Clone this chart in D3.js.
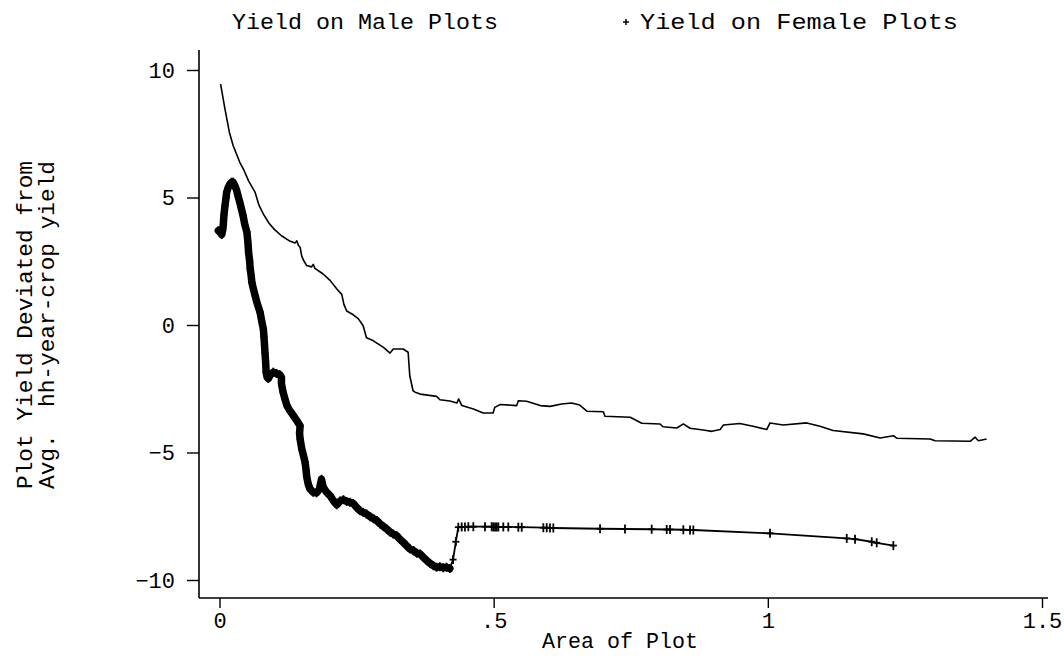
<!DOCTYPE html>
<html><head><meta charset="utf-8">
<script src="https://cdn.jsdelivr.net/npm/d3@7"></script>
<style>html,body{margin:0;padding:0;background:#fff;}svg{display:block;}</style>
</head><body>
<svg id="chart" width="1064" height="661"></svg>
<script>
// ---- data ----
const maleArea = [0.002,0.010,0.018,0.025,0.037,0.045,0.053,0.065,0.072,0.080,0.090,0.100,0.113,0.129,0.138,0.141,0.144,0.147,0.150,0.153,0.159,0.168,0.171,0.174,0.189,0.202,0.214,0.223,0.227,0.232,0.244,0.253,0.262,0.268,0.280,0.299,0.311,0.317,0.335,0.344,0.347,0.353,0.358,0.366,0.396,0.402,0.420,0.433,0.436,0.442,0.463,0.481,0.499,0.502,0.512,0.542,0.545,0.560,0.585,0.603,0.624,0.642,0.657,0.670,0.700,0.703,0.749,0.770,0.803,0.809,0.834,0.846,0.858,0.882,0.898,0.913,0.919,0.949,0.975,0.998,1.004,1.028,1.071,1.095,1.119,1.174,1.205,1.229,1.235,1.296,1.305,1.369,1.378,1.384,1.399];
const maleYield = [9.45,8.47,7.56,7.03,6.38,6.05,5.65,5.20,4.70,4.35,4.00,3.75,3.50,3.28,3.22,3.30,3.12,3.05,2.70,2.55,2.33,2.28,2.38,2.22,2.00,1.74,1.41,1.20,0.80,0.55,0.40,0.25,-0.03,-0.50,-0.61,-0.88,-1.10,-0.94,-0.94,-1.07,-1.99,-2.58,-2.65,-2.71,-2.80,-2.93,-2.98,-3.06,-2.90,-3.16,-3.29,-3.45,-3.45,-3.23,-3.12,-3.16,-2.97,-2.99,-3.16,-3.19,-3.10,-3.06,-3.14,-3.38,-3.40,-3.58,-3.62,-3.85,-3.88,-3.99,-4.04,-3.88,-4.05,-4.12,-4.17,-4.10,-3.92,-3.86,-3.98,-4.10,-3.84,-3.92,-3.84,-3.97,-4.14,-4.27,-4.43,-4.34,-4.44,-4.47,-4.54,-4.56,-4.40,-4.54,-4.47];

const femaleArea = [-0.002,0.002,0.004,0.006,0.007,0.008,0.010,0.012,0.013,0.016,0.019,0.022,0.025,0.028,0.031,0.034,0.037,0.040,0.043,0.046,0.050,0.052,0.053,0.055,0.056,0.058,0.059,0.062,0.065,0.068,0.071,0.074,0.077,0.080,0.081,0.082,0.083,0.084,0.085,0.087,0.089,0.093,0.098,0.104,0.110,0.113,0.113,0.116,0.120,0.123,0.128,0.135,0.141,0.147,0.146,0.147,0.150,0.153,0.156,0.158,0.159,0.162,0.165,0.171,0.177,0.182,0.186,0.189,0.195,0.202,0.208,0.214,0.220,0.226,0.232,0.238,0.244,0.250,0.256,0.262,0.268,0.275,0.281,0.287,0.293,0.299,0.305,0.311,0.317,0.323,0.329,0.335,0.341,0.347,0.354,0.360,0.366,0.372,0.378,0.384,0.390,0.396,0.402,0.408,0.414,0.420,0.426,0.431,0.4355,0.4417,0.4477,0.4538,0.4629,0.4842,0.4964,0.4994,0.5025,0.5056,0.5085,0.5176,0.5267,0.545,0.5512,0.5906,0.5968,0.6028,0.6088,0.694,0.7395,0.7882,0.8156,0.8216,0.8459,0.8581,0.8641,1.004,1.1439,1.159,1.1895,1.1986,1.2289];
const femaleYield = [3.70,3.62,3.55,3.75,3.95,4.30,4.68,5.00,5.20,5.40,5.53,5.60,5.60,5.46,5.30,5.05,4.81,4.55,4.29,3.95,3.64,3.20,2.85,2.50,2.20,1.90,1.67,1.40,1.15,0.90,0.70,0.50,0.15,-0.16,-0.45,-0.75,-1.10,-1.40,-1.85,-2.05,-2.10,-1.95,-1.85,-1.90,-1.95,-2.05,-2.31,-2.64,-2.95,-3.16,-3.35,-3.56,-3.75,-3.95,-4.25,-4.47,-4.86,-5.10,-5.38,-5.70,-5.95,-6.25,-6.43,-6.56,-6.58,-6.45,-6.05,-6.35,-6.55,-6.70,-6.90,-7.05,-6.90,-6.85,-6.92,-6.95,-7.00,-7.15,-7.28,-7.35,-7.41,-7.52,-7.60,-7.67,-7.80,-7.90,-8.00,-8.12,-8.20,-8.26,-8.40,-8.52,-8.65,-8.78,-8.85,-8.95,-8.98,-9.12,-9.24,-9.35,-9.44,-9.50,-9.48,-9.52,-9.50,-9.55,-9.20,-8.50,-7.93,-7.92,-7.92,-7.91,-7.91,-7.91,-7.91,-7.92,-7.92,-7.92,-7.92,-7.92,-7.92,-7.93,-7.93,-7.95,-7.95,-7.96,-7.96,-7.99,-8.00,-8.01,-8.02,-8.02,-8.03,-8.04,-8.04,-8.17,-8.37,-8.40,-8.50,-8.54,-8.65];

const yTicks = [-10, -5, 0, 5, 10];
const yTickLabels = ["\u221210", "\u22125", "0", "5", "10"];
const xTicks = [0, 0.5, 1, 1.5];
const xTickLabels = ["0", ".5", "1", "1.5"];
const legendLabels = ["Yield on Male Plots", "Yield on Female Plots"];
const xTitle = "Area of Plot";
const yTitleLines = ["Plot Yield Deviated from", "Avg.  hh-year-crop yield"];

// ---- drawing ----
const FONT = "'Liberation Mono', 'DejaVu Sans Mono', monospace";
const svg = d3.select("#chart");
const x = d3.scaleLinear().domain([0, 1.5]).range([219.5, 1042]);
const y = d3.scaleLinear().domain([-10, 10]).range([580, 70]);
const axisX = 199, axisY = 598;

// axis lines
svg.append("line").attr("x1", axisX).attr("x2", axisX).attr("y1", 50).attr("y2", axisY)
  .attr("stroke", "#000").attr("stroke-width", 1.6);
svg.append("line").attr("x1", axisX).attr("x2", 1048).attr("y1", axisY).attr("y2", axisY)
  .attr("stroke", "#000").attr("stroke-width", 1.6);

const gy = svg.append("g").attr("transform", `translate(${axisX},0)`)
  .call(d3.axisLeft(y).tickValues(yTicks).tickSize(12).tickSizeOuter(0).tickPadding(12)
    .tickFormat((d, i) => yTickLabels[i]));
gy.select(".domain").remove();
gy.selectAll(".tick line").attr("stroke", "#000").attr("stroke-width", 1.4);
gy.selectAll(".tick text").attr("font-family", FONT).attr("font-size", 22).attr("fill", "#000");

const gx = svg.append("g").attr("transform", `translate(0,${axisY})`)
  .call(d3.axisBottom(x).tickValues(xTicks).tickSize(10).tickSizeOuter(0).tickPadding(4)
    .tickFormat((d, i) => xTickLabels[i]));
gx.select(".domain").remove();
gx.selectAll(".tick line").attr("stroke", "#000").attr("stroke-width", 1.4);
gx.selectAll(".tick text").attr("font-family", FONT).attr("font-size", 22).attr("fill", "#000");

// titles
svg.append("text").attr("x", 620).attr("y", 648).attr("text-anchor", "middle")
  .attr("font-family", FONT).attr("font-size", 22).attr("textLength", 156).attr("lengthAdjust", "spacingAndGlyphs")
  .text(xTitle);
yTitleLines.forEach((t, i) => {
  const cx = [32, 54][i];
  svg.append("text").attr("transform", `translate(${cx},325) rotate(-90)`)
    .attr("text-anchor", "middle").attr("font-family", FONT).attr("font-size", 22)
    .attr("textLength", 328).attr("lengthAdjust", "spacingAndGlyphs")
    .style("white-space", "pre").attr("xml:space", "preserve").text(t);
});

// legend
svg.append("text").attr("x", 232).attr("y", 29).attr("font-family", FONT).attr("font-size", 22)
  .attr("textLength", 266).attr("lengthAdjust", "spacingAndGlyphs").text(legendLabels[0]);
svg.append("text").attr("x", 640).attr("y", 29).attr("font-family", FONT).attr("font-size", 22)
  .attr("textLength", 318).attr("lengthAdjust", "spacingAndGlyphs").text(legendLabels[1]);
const plus = (g, cx, cy, s) => {
  g.append("line").attr("x1", cx - s / 2).attr("x2", cx + s / 2).attr("y1", cy).attr("y2", cy);
  g.append("line").attr("x1", cx).attr("x2", cx).attr("y1", cy - s / 2).attr("y2", cy + s / 2);
};
const lg = svg.append("g").attr("stroke", "#000").attr("stroke-width", 1.5);
plus(lg, 626, 22, 6);

// series
const male = maleArea.map((a, i) => [a, maleYield[i]]);
const female = femaleArea.map((a, i) => [a, femaleYield[i]]);
const line = d3.line().x(d => x(d[0])).y(d => y(d[1]));

svg.append("path").datum(male).attr("d", line).attr("fill", "none")
  .attr("stroke", "#000").attr("stroke-width", 1.6).attr("stroke-linejoin", "round");

// dense section where markers overlap into a band
svg.append("path").datum(female.filter(d => d[0] <= 0.42)).attr("d", line).attr("fill", "none")
  .attr("stroke", "#000").attr("stroke-width", 7.5).attr("stroke-linejoin", "round").attr("stroke-linecap", "round");
svg.append("path").datum(female).attr("d", line).attr("fill", "none")
  .attr("stroke", "#000").attr("stroke-width", 1.8).attr("stroke-linejoin", "round");
const mg = svg.append("g").attr("stroke", "#000").attr("stroke-width", 1.8);
female.forEach(d => {
  const cx = x(d[0]), cy = y(d[1]);
  mg.append("line").attr("x1", cx - 3.5).attr("x2", cx + 3.5).attr("y1", cy).attr("y2", cy);
  mg.append("line").attr("x1", cx).attr("x2", cx).attr("y1", cy - 4.5).attr("y2", cy + 4.5);
});
</script>
</body></html>
